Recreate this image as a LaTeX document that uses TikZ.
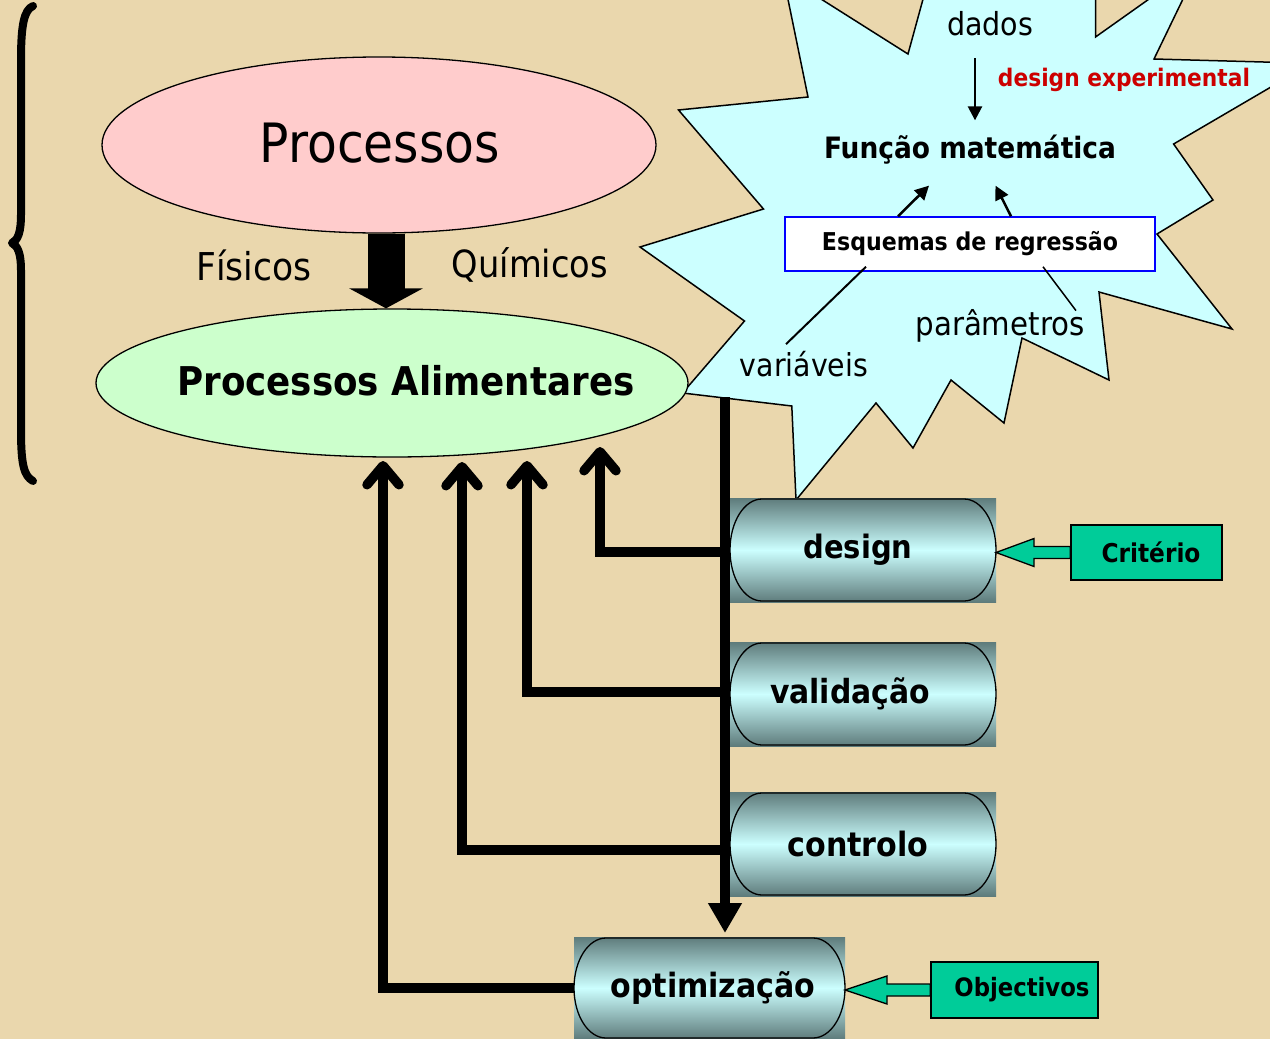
\documentclass[tikz,border=0pt]{standalone}
\usepackage{fontspec}
\setmainfont{DejaVu Sans Condensed}
\usepackage{graphicx}
\usetikzlibrary{arrows.meta,shapes.geometric,calc}
\definecolor{parch}{HTML}{EAD7AD}
\definecolor{pinkfill}{HTML}{FFCCCC}
\definecolor{greenfill}{HTML}{CCFFCC}
\definecolor{starfill}{HTML}{CCFFFF}
\definecolor{pilldark}{HTML}{5E7B7B}
\definecolor{pilllight}{HTML}{CCFFFF}
\definecolor{boxgreen}{HTML}{00CC99}
\definecolor{expred}{HTML}{CC0000}
\newcommand\fw[2]{\resizebox{#1pt}{!}{#2}}
\newcommand\pillshape[2]{%
  \draw[line width=1.3pt] ([xshift=32pt,yshift=-1pt]#1.north west) -- ([xshift=-32pt,yshift=-1pt]#1.north east)
    arc[start angle=90,end angle=-90,x radius=32pt,y radius=#2]
    -- ([xshift=32pt,yshift=1pt]#1.south west)
    arc[start angle=270,end angle=90,x radius=32pt,y radius=#2] -- cycle;}
\begin{document}
\begin{tikzpicture}[x=1pt,y=-1pt,
  txt/.style={inner sep=0pt,outer sep=0pt},
  bus/.style={line width=9.5pt,black},
  branch/.style={-{Straight Barb[length=19pt,width=32pt,line cap=round,line join=round]}},
  thinarr/.style={line width=2.5pt,-{Triangle[length=14pt,width=14pt]}},
  pillbg/.style={rectangle,inner sep=0pt,outer sep=0pt,minimum height=104pt,
     top color=pilldark,bottom color=pilldark,middle color=pilllight,font=\bfseries},
  greenbox/.style={rectangle,draw=black,line width=1.5pt,fill=boxgreen,inner sep=0pt,font=\bfseries},
  greenarr/.style={draw=black,line width=1.3pt,fill=boxgreen,line join=miter},
  ell/.style={ellipse,draw=black,line width=1.3pt,inner sep=0pt}]
\fill[parch] (0,0) rectangle (1270,1039);
\useasboundingbox (0,0) rectangle (1270,1039);

% star
\begin{scope}
\clip (0,0) rectangle (1270,1039);
\draw[fill=starfill,line width=1.5pt] (640,247) -- (763.5,209) -- (678.5,110) -- (808,97) -- (783,-25)
 -- (908,54) -- (931,-30) -- (1095.5,-30) -- (1095.5,37) -- (1190,-30) -- (1197,-30) -- (1154,59)
 -- (1300,63) -- (1300,70) -- (1173.6,144) -- (1213,200) -- (1157,234) -- (1232,329) -- (1099,292)
 -- (1109,380) -- (1022,338) -- (1004,423) -- (951,380) -- (913,448) -- (876,403) -- (796,500)
 -- (791.8,406) -- (682.5,393) -- (744.5,321) -- cycle;
\end{scope}

% brace
\draw[line width=8pt,line cap=round,line join=round] (33,6) .. controls (24,10) and (21,25) .. (21,60) -- (21,215)
  .. controls (21,232) and (18,240) .. (12,243) .. controls (18,246) and (21,254) .. (21,270) -- (21,430)
  .. controls (21,465) and (24,476) .. (33,481);

% ellipses
\node[ell,fill=pinkfill,minimum width=554pt,minimum height=176pt] (proc) at (379,145) {};
\node[txt] (proctxt) at (380,143) {\fw{240}{Processos}};
\node[ell,fill=greenfill,minimum width=592pt,minimum height=148pt] (alim) at (392,383) {};
\node[txt,font=\bfseries] (alimtxt) at (406,381) {\fw{457}{Processos Alimentares}};
\coordinate (bx) at (386,0);
\draw[line width=37pt,-{Triangle[length=20pt,width=73pt]}] (proc.south -| bx) -- (alim.north -| bx);
\node[txt] (fis) at (254,265) {\fw{115}{Físicos}};
\node[txt] (qui) at (530,265) {\fw{156}{Químicos}};

% star content
\node[txt] (dados) at (990,24) {\fw{86}{dados}};
\node[txt,text=expred,font=\bfseries] (dexp) at (1124,80) {\fw{252}{design experimental}};
\node[txt,font=\bfseries] (func) at (970,150) {\fw{292}{Função matemática}};
\node[draw=blue,fill=white,line width=1.5pt,minimum width=370pt,minimum height=54pt,inner sep=0pt,font=\bfseries] (esq) at (970,244)
  {\fw{296}{Esquemas de regressão}};
\node[txt] (var) at (804,364) {\fw{128}{variáveis}};
\node[txt] (par) at (1000,326) {\fw{169}{parâmetros}};
\coordinate (ax) at (975,0);
\draw[thinarr] ($(dados.south -| ax)+(0,22)$) -- ($(func.north -| ax)+(0,-15)$);
\draw[thinarr] ($(esq.north)+(-72,0)$) -- ($(func.south)+(-41,21)$);
\draw[thinarr] ($(esq.north)+(41,0)$) -- ($(func.south)+(25.5,21)$);
\draw[line width=2pt] ($(esq.south)+(-104,-5)$) -- ($(var.north)+(-18,-7)$);
\draw[line width=1.5pt] ($(esq.south)+(73,-5)$) -- ($(par.north)+(76,1)$);

% pills
\node[pillbg,minimum width=266pt] (design) at (863,550) {\hspace*{-10pt}\fw{109}{design}};
\pillshape{design}{51pt}
\node[pillbg,minimum width=266pt] (val) at (863,694) {\fw{160}{validação}\hspace*{26pt}};
\pillshape{val}{51pt}
\node[pillbg,minimum width=266pt] (ctrl) at (863,844) {\fw{141}{controlo}\hspace*{10pt}};
\pillshape{ctrl}{51pt}
\node[pillbg,minimum width=271pt,minimum height=102pt] (optim) at (709.5,988) {\hspace*{7pt}\fw{205}{optimização}};
\pillshape{optim}{50pt}

% green boxes and block arrows
\node[greenbox,minimum width=151pt,minimum height=55pt] (crit) at (1146.5,552.5) {\hspace*{9pt}\fw{99}{Critério}};
\node[greenbox,minimum width=167pt,minimum height=56pt] (obj) at (1014.5,990) {\hspace*{15pt}\fw{135}{Objectivos}};
\draw[greenarr] (crit.west -| design.east) -- ++(38,-14) -- ++(0,8) -- ($(crit.west)+(0,-6)$) -- ($(crit.west)+(0,6)$)
  -- ($(crit.west -| design.east)+(38,6)$) -- ++(0,8) -- cycle;
\draw[greenarr] (obj.west -| optim.east) -- ++(42,-14) -- ++(0,8) -- ($(obj.west)+(0,-6)$) -- ($(obj.west)+(0,6)$)
  -- ($(obj.west -| optim.east)+(42,6)$) -- ++(0,8) -- cycle;

% bus connectors
\coordinate (spine) at (725,397);
\draw[bus,-{Triangle[length=30pt,width=32pt]},shorten >=4pt] (spine) -- (optim.north -| spine);
\coordinate (b1) at (600,447);
\coordinate (b2) at (527,461);
\coordinate (b3) at (462,462);
\coordinate (b4) at (383,461);
\draw[bus,branch] ($(design.west -| spine)+(0,2)$) -| (b1);
\draw[bus,branch] ($(val.west -| spine)+(0,-2)$) -| (b2);
\draw[bus,branch] ($(ctrl.west -| spine)+(0,6)$) -| (b3);
\draw[bus,branch] (optim.west) -| (b4);
\end{tikzpicture}
\end{document}
